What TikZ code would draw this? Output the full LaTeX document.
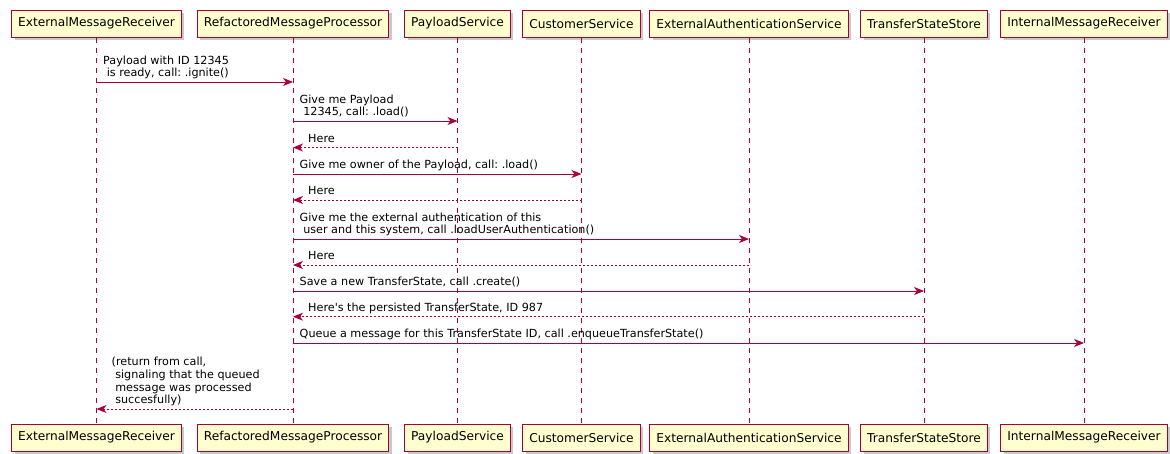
\documentclass[tikz,border=0pt]{standalone}
\usepackage{fontspec}
\setmainfont{DejaVu Sans}
\usetikzlibrary{arrows.meta,shadows}
\definecolor{umlred}{HTML}{A80036}
\definecolor{umlfill}{HTML}{FEFECE}
\frenchspacing

\tikzset{
  actorbox/.style={draw=umlred, fill=umlfill, line width=1pt,
    minimum height=27pt, inner xsep=6.5pt, inner ysep=0pt,
    font=\fontsize{12.2}{14}\selectfont,
    drop shadow={shadow xshift=3pt, shadow yshift=-3pt, opacity=0.3, fill=black!70}},
  lifeline/.style={draw=umlred, line width=1pt, dash pattern=on 5pt off 5pt},
  tipstyle/.style={-{Stealth[length=10pt,width=8pt,inset=3pt]}},
  callmsg/.style={draw=umlred, line width=1pt, tipstyle},
  retmsg/.style={draw=umlred, line width=1pt, dash pattern=on 2pt off 2pt, tipstyle},
  msglabel/.style={anchor=south west, inner sep=0pt, align=left,
    font=\fontsize{11.2}{12.7}\selectfont, execute at end node=\strut},
  calllabel/.style={msglabel, xshift=6.5pt},
  retlabel/.style={msglabel, xshift=15pt},
}

\begin{document}
\begin{tikzpicture}[x=1pt, y=-1pt]
  \useasboundingbox (0,0) rectangle (1170,453);

  % participants, top row
  \node[actorbox] (emrT) at (96.5,23.5) {ExternalMessageReceiver};
  \node[actorbox] (rmpT) at (293,23.5) {RefactoredMessageProcessor};
  \node[actorbox] (psT)  at (457.5,23.5) {PayloadService};
  \node[actorbox] (csT)  at (581.5,23.5) {CustomerService};
  \node[actorbox] (easT) at (749,23.5) {ExternalAuthenticationService};
  \node[actorbox] (tssT) at (924,23.5) {TransferStateStore};
  \node[actorbox] (imrT) at (1084,23.5) {InternalMessageReceiver};

  % participants, bottom row
  \node[actorbox] (emrB) at (96.5,437.5) {ExternalMessageReceiver};
  \node[actorbox] (rmpB) at (293,437.5) {RefactoredMessageProcessor};
  \node[actorbox] (psB)  at (457.5,437.5) {PayloadService};
  \node[actorbox] (csB)  at (581.5,437.5) {CustomerService};
  \node[actorbox] (easB) at (749,437.5) {ExternalAuthenticationService};
  \node[actorbox] (tssB) at (924,437.5) {TransferStateStore};
  \node[actorbox] (imrB) at (1084,437.5) {InternalMessageReceiver};

  % lifelines
  \foreach \p in {emr,rmp,ps,cs,eas,tss,imr}
    \draw[lifeline] (\p T.south) -- (\p B.north);

  % messages
  \draw[callmsg] (emrT |- 0,82) -- (rmpT |- 0,82);
  \node[calllabel] (l1) at (emrT |- 0,80.8) {Payload with ID 12345\\\ is ready, call: .ignite()};

  \draw[callmsg] (rmpT |- 0,121) -- (psT |- 0,121);
  \node[calllabel] (l2) at (rmpT |- 0,119.8) {Give me Payload\\\ 12345, call: .load()};

  \draw[retmsg] (psT |- 0,147.5) -- (rmpT |- 0,147.5);
  \node[retlabel] (l3) at (rmpT |- 0,146.3) {Here};

  \draw[callmsg] (rmpT |- 0,174) -- (csT |- 0,174);
  \node[calllabel] (l4) at (rmpT |- 0,172.8) {Give me owner of the Payload, call: .load()};

  \draw[retmsg] (csT |- 0,200) -- (rmpT |- 0,200);
  \node[retlabel] (l5) at (rmpT |- 0,198.8) {Here};

  \draw[callmsg] (rmpT |- 0,239) -- (easT |- 0,239);
  \node[calllabel] (l6) at (rmpT |- 0,237.8) {Give me the external authentication of this\\\ user and this system, call .loadUserAuthentication()};

  \draw[retmsg] (easT |- 0,265) -- (rmpT |- 0,265);
  \node[retlabel] (l7) at (rmpT |- 0,263.8) {Here};

  \draw[callmsg] (rmpT |- 0,291) -- (tssT |- 0,291);
  \node[calllabel] (l8) at (rmpT |- 0,289.8) {Save a new TransferState, call .create()};

  \draw[retmsg] (tssT |- 0,316.7) -- (rmpT |- 0,316.7);
  \node[retlabel] (l9) at (rmpT |- 0,315.5) {Here\textquotesingle s the persisted TransferState, ID 987};

  \draw[callmsg] (rmpT |- 0,343) -- (imrT |- 0,343);
  \node[calllabel] (l10) at (rmpT |- 0,341.8) {Queue a message for this TransferState ID, call .enqueueTransferState()};

  \draw[retmsg] (rmpT |- 0,409) -- (emrT |- 0,409);
  \node[retlabel] (l11) at (emrT |- 0,407.8) {(return from call,\\\ signaling that the queued\\\ message was processed\\\ succesfully)};
\end{tikzpicture}
\end{document}
